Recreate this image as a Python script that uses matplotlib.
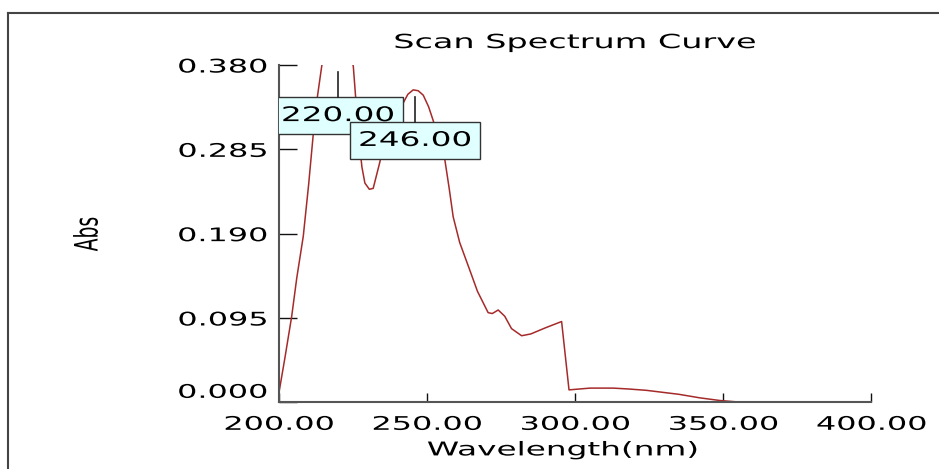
import matplotlib
matplotlib.use("Agg")
import matplotlib.pyplot as plt
from matplotlib.patches import Rectangle
from matplotlib.patheffects import AbstractPathEffect
from matplotlib.transforms import Affine2D


# spectrum (nm, Abs)
wavelength = [200, 202, 204.3, 206, 208.2, 210, 211.6, 213, 214.4, 217, 220, 223,
              225.1, 226.8, 228, 229, 230.5, 231.8, 234, 236.3, 239, 241.9, 243.5,
              245.3, 247, 248.7, 250.5, 252, 254, 256, 257.5, 258.8, 261, 264.4,
              267, 270.6, 272, 274, 276.2, 278.5, 281.9, 285, 290, 295.4, 297.9,
              305, 312.8, 318, 324, 335, 342.1, 348.9, 354.5]
absorbance = [0.011, 0.05, 0.097, 0.14, 0.187, 0.245, 0.303, 0.345, 0.378, 0.425,
              0.44, 0.415, 0.378, 0.303, 0.265, 0.247, 0.24, 0.241, 0.27, 0.303,
              0.325, 0.337, 0.347, 0.352, 0.351, 0.346, 0.333, 0.318, 0.295, 0.273,
              0.24, 0.209, 0.18, 0.149, 0.125, 0.101, 0.1, 0.104, 0.097, 0.083,
              0.075, 0.077, 0.084, 0.091, 0.014, 0.016, 0.016, 0.015, 0.0135,
              0.009, 0.005, 0.002, 0.0005]

# peak markers and where their labels sit
peak_wl = [220, 246]
peak_text = ["220.00", "246.00"]
peak_label_y = [0.323, 0.295]

x_ticks = [200, 250, 300, 350, 400]
x_ticklabels = ["200.00", "250.00", "300.00", "350.00", "400.00"]
y_ticks = [0.0, 0.095, 0.190, 0.285, 0.380]
y_ticklabels = ["0.000", "0.095", "0.190", "0.285", "0.380"]


# the instrument software draws its text stretched sideways, copy that
class WideText(AbstractPathEffect):
    def __init__(self, sx=1.72, anchor="center", dy=0):
        super().__init__()
        self.sx = sx
        self.anchor = anchor
        self.dy = dy

    def draw_path(self, renderer, gc, tpath, affine, rgbFace=None):
        bb = tpath.get_extents(affine)
        if self.anchor == "right":
            cx = bb.x1
        elif self.anchor == "left":
            cx = bb.x0
        else:
            cx = (bb.x0 + bb.x1) / 2
        wide = Affine2D().translate(-cx, 0).scale(self.sx, 1).translate(cx, self.dy)
        renderer.draw_path(gc, tpath, affine + wide, rgbFace)


plt.rcParams["font.family"] = "DejaVu Sans"

fig = plt.figure(figsize=(9.39, 4.69), dpi=100)
ax = fig.add_axes([0.2971, 0.1422, 0.6310, 0.7192])

ax.plot(wavelength, absorbance, color="#a52a2a", lw=1.1, zorder=2)

# peak labels
box_w = 44
box_h = 0.0416
for wl, txt, ly in zip(peak_wl, peak_text, peak_label_y):
    ax.add_patch(Rectangle((wl - box_w / 2, ly - box_h / 2), box_w, box_h,
                           facecolor="#e0ffff", edgecolor="#333333", lw=1, zorder=3))
    ax.plot([wl, wl], [ly + box_h / 2, ly + box_h / 2 + 0.028], color="#222222",
            lw=1.2, zorder=3)
    t = ax.text(wl, ly, txt, ha="center", va="center", fontsize=14.5, zorder=4)
    t.set_path_effects([WideText(1.62)])

ax.set_xlim(200, 400)
ax.set_ylim(0, 0.38)
ax.set_xticks(x_ticks)
ax.set_xticklabels(x_ticklabels)
ax.set_yticks(y_ticks)
ax.set_yticklabels(y_ticklabels)

for side in ["top", "right"]:
    ax.spines[side].set_visible(False)
for side in ["left", "bottom"]:
    ax.spines[side].set_color("#555555")
    ax.spines[side].set_linewidth(1.5)

ax.tick_params(axis="y", direction="in", length=13, width=1, color="#111111",
               pad=8.5, labelsize=13.5)
ax.tick_params(axis="x", direction="in", length=6.5, width=1, color="#111111",
               pad=9, labelsize=13.5)

for lab in ax.get_xticklabels():
    lab.set_path_effects([WideText(1.7)])
for i, lab in enumerate(ax.get_yticklabels()):
    # the 0.000 label sits a bit above its tick in the original
    lab.set_path_effects([WideText(1.7, anchor="right", dy=12 if i == 0 else 0)])

title = ax.set_title("Scan Spectrum Curve", fontsize=14, pad=12.2)
title.set_path_effects([WideText()])

xl = ax.set_xlabel("Wavelength(nm)", fontsize=13.7)
ax.xaxis.set_label_coords(0.4785, -0.113)
xl.set_path_effects([WideText()])

yl = ax.set_ylabel("Abs", fontsize=13.5)
yl.set_va("center")
ax.yaxis.set_label_coords(-0.324, 0.499)
yl.set_path_effects([WideText()])

# thin frame the screenshot was cut from
fx = 8 / 939
fy = 1 - 13 / 469
fig.add_artist(plt.Line2D([fx, fx], [0, fy], transform=fig.transFigure,
                          color="#444444", lw=1.5))
fig.add_artist(plt.Line2D([fx, 1], [fy, fy], transform=fig.transFigure,
                          color="#444444", lw=1.5))

fig.savefig("out.png", dpi=100)
